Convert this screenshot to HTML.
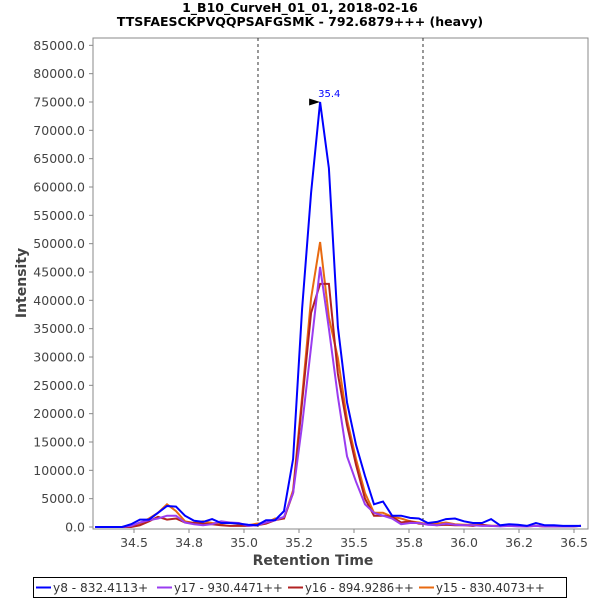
<!DOCTYPE html>
<html><head><meta charset="utf-8"><style>
body{margin:0;background:#fff;width:600px;height:600px;overflow:hidden;font-family:"Liberation Sans","DejaVu Sans",sans-serif}
svg text{font-family:"DejaVu Sans","Liberation Sans",sans-serif}
</style></head><body>
<svg id="chart" width="600" height="600">
<text x="300" y="12" text-anchor="middle" font-size="12.5" font-weight="bold" fill="#000">1_B10_CurveH_01_01, 2018-02-16</text>
<text x="300" y="26" text-anchor="middle" font-size="12.5" font-weight="bold" fill="#000">TTSFAESCKPVQQPSAFGSMK - 792.6879+++ (heavy)</text>
<rect x="93" y="38" width="495" height="491" fill="#fff" stroke="#888"/>
<g id="yticks"></g>
<g id="xticks"></g>
<g id="marks"></g>
<text x="313" y="565" text-anchor="middle" font-size="14" font-weight="bold" fill="#444">Retention Time</text>
<text transform="translate(26,283) rotate(-90)" text-anchor="middle" font-size="14" font-weight="bold" fill="#444">Intensity</text>
<g>
<rect x="33.5" y="577.5" width="533" height="20" fill="#fff" stroke="#000"/>
<g id="legend"></g>
</g>
</svg>
<script>
const times=[34.323,34.364,34.405,34.446,34.487,34.527,34.568,34.609,34.650,34.691,34.732,34.773,34.814,34.855,34.896,34.937,34.977,35.018,35.059,35.100,35.141,35.182,35.223,35.264,35.305,35.346,35.386,35.427,35.468,35.509,35.550,35.591,35.632,35.673,35.714,35.755,35.795,35.836,35.877,35.918,35.959,36.000,36.041,36.082,36.123,36.164,36.205,36.245,36.286,36.327,36.368,36.409,36.450,36.491,36.532];
const y8=[0,0,0,0,500,1300,1300,2500,3700,3600,2000,1100,900,1400,700,700,600,400,300,1200,1200,2800,12000,38500,59000,75000,63300,35300,22000,14500,9000,4000,4500,2000,2000,1600,1500,700,900,1400,1500,1000,700,700,1400,300,500,400,200,700,300,300,200,200,200];
const y17=[0,0,0,0,200,800,1200,1500,2000,2000,800,500,300,500,1000,800,700,200,300,800,1200,1800,6000,18000,31800,45900,35000,23000,12500,8000,4000,2500,2000,1500,500,700,700,400,300,600,400,300,300,200,200,100,200,100,100,200,100,100,100,100,200];
const y16=[0,0,0,0,0,300,1000,1800,1300,1500,800,700,600,500,300,200,200,200,300,600,1200,1500,6000,22000,37800,42900,42900,27000,18000,11000,5000,2000,2000,1800,800,1000,600,500,300,400,300,300,200,400,200,200,200,200,100,200,100,100,100,100,200];
const y15=[0,0,0,0,200,600,1500,2500,4000,2800,1000,700,1000,700,600,800,500,300,600,700,1500,1500,6500,23000,40400,50300,37000,29800,19000,12000,6000,2500,2500,1800,1500,1000,800,500,600,800,500,400,400,300,200,200,300,200,200,200,100,100,100,100,200];
const seriesNames=["y8 - 832.4113+","y17 - 930.4471++","y16 - 894.9286++","y15 - 830.4073++"];
const seriesColors=["#0000ff","#9a3cf0","#b22222","#e86a10"];
const yTicks=[0,5000,10000,15000,20000,25000,30000,35000,40000,45000,50000,55000,60000,65000,70000,75000,80000,85000];
const xTicks=[34.5,34.75,35.0,35.25,35.5,35.75,36.0,36.25,36.5];
const xTickLabels=["34.5","34.8","35.0","35.2","35.5","35.8","36.0","36.2","36.5"];
const markers=[35.0636,35.8136];
const peakTime=35.346, peakValue=75000, peakLabel="35.4";
const NS="http://www.w3.org/2000/svg";
const X=t=>134+(t-34.5)*220;
const Y=v=>527-v*0.0056667;
function mk(tag,attrs,parent){const e=document.createElementNS(NS,tag);for(const k in attrs)e.setAttribute(k,attrs[k]);parent.appendChild(e);return e;}
const yg=document.getElementById('yticks');
yTicks.forEach(v=>{
  const l=mk('line',{x1:89,x2:93,y1:Y(v),y2:Y(v),stroke:'#888'},yg);
  
  
  const t=mk('text',{x:85,y:Y(v)+4.5,'text-anchor':'end','font-size':12.5,fill:'#444'},yg);
  t.textContent=v.toFixed(1);
  
  
});
const xg=document.getElementById('xticks');
xTicks.forEach((v,i)=>{
  const l=mk('line',{x1:X(v),x2:X(v),y1:529,y2:533,stroke:'#888'},xg);
  
  
  const t=mk('text',{x:X(v),y:547,'text-anchor':'middle','font-size':12.5,fill:'#444'},xg);
  t.textContent=xTickLabels[i];
  
  
});
const mg=document.getElementById('marks');
markers.forEach(m=>{
  const l=mk('line',{x1:X(m),x2:X(m),y1:38,y2:529,stroke:'#333','stroke-dasharray':'3,3'},mg);
  
  
});
[y15,y16,y17,y8].forEach((s,k)=>{
  const idx=[3,2,1,0][k];
  const p=mk('polyline',{points:s.map((v,i)=>X(times[i]).toFixed(1)+','+Y(v).toFixed(1)).join(' '),fill:'none',stroke:seriesColors[idx],'stroke-width':2,'stroke-linejoin':'miter'},mg);
  
  
});
const px=X(peakTime),py=Y(peakValue);
const tri=mk('polygon',{points:`${px-11},${py-3.5} ${px},${py} ${px-11},${py+3.5}`,fill:'#000'},mg);


const pl=mk('text',{x:px-2,y:py-5,'font-size':10,fill:'#0000ff'},mg);
pl.textContent=peakLabel;


const lg=document.getElementById('legend');
const legX=[36,157,288,419];
seriesNames.forEach((n,i)=>{
  const g=mk('g',{},lg);
  
  
  mk('line',{x1:legX[i],x2:legX[i]+15,y1:587.5,y2:587.5,stroke:seriesColors[i],'stroke-width':2},g);
  const t=mk('text',{x:legX[i]+17,y:592,'font-size':12,fill:'#333'},g);
  t.textContent=n;
  t.setAttribute('textLength',String(n.length*6.8));
  t.setAttribute('lengthAdjust','spacingAndGlyphs');
});
</script>
</body></html>
